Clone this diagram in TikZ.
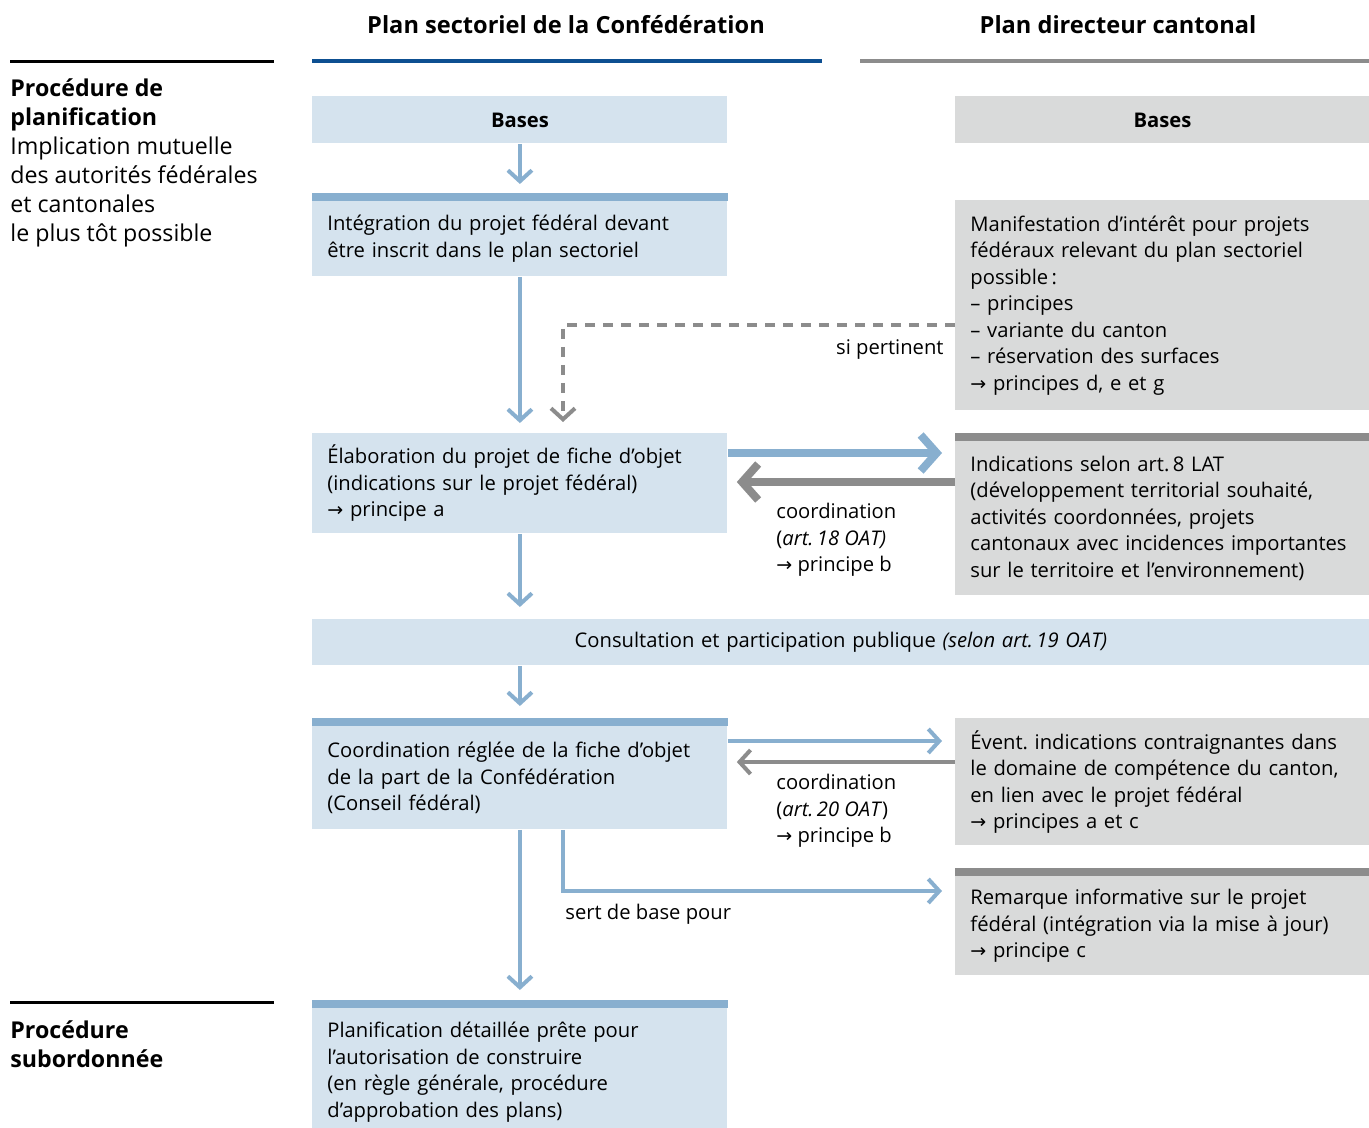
\documentclass[tikz,border=0pt]{standalone}
\usepackage{fontspec}
\setmainfont{Open Sans}
\newfontfamily\arrowfont{DejaVu Sans}
\usetikzlibrary{arrows.meta}
\frenchspacing

\definecolor{fedlight}{HTML}{D5E3EE}
\definecolor{fedmid}{HTML}{88AFCF}
\definecolor{feddark}{HTML}{0D4F91}
\definecolor{canlight}{HTML}{D9DADA}
\definecolor{candark}{HTML}{8C8C8C}

\newcommand{\toarr}{{\arrowfont\fontsize{9.5}{10}\selectfont →}}

\begin{document}
\begin{tikzpicture}[
    x=0.5pt, y=-0.5pt,
    every node/.style={font=\fontsize{10.1}{13.25}\selectfont},
    head/.style={font=\fontsize{11.8}{14}\selectfont\bfseries},
    side/.style={anchor=west, align=left, inner sep=0pt, font=\fontsize{11.6}{14.5}\selectfont},
    lbl/.style={inner sep=0pt, align=left},
    box/.style={anchor=north west, inner xsep=7.5pt, inner ysep=0pt, align=left},
    fedbox/.style={box, fill=fedlight, text width=192.5pt},
    canbox/.style={box, fill=canlight, text width=192pt},
    bluebar/.style={append after command={\pgfextra{\fill[fedmid] (\tikzlastnode.north west) rectangle ([yshift=4pt]\tikzlastnode.north east);}}},
    graybar/.style={append after command={\pgfextra{\fill[candark] (\tikzlastnode.north west) rectangle ([yshift=4pt]\tikzlastnode.north east);}}},
    bluearr/.style={draw=fedmid, line width=2pt, -{Straight Barb[length=5.5pt,width=12pt]}},
    grayarr/.style={draw=candark, line width=2pt, -{Straight Barb[length=5.5pt,width=12pt]}},
    bluewide/.style={draw=fedmid, line width=4pt, -{Straight Barb[length=8pt,width=18pt]}},
    graywide/.style={draw=candark, line width=4pt, -{Straight Barb[length=8pt,width=18pt]}}
]
\useasboundingbox (0,0) rectangle (1369,1128);

\node[head] (hfed) at (566,25) {Plan sectoriel de la Confédération};
\node[head] (hcan) at (1118,25) {Plan directeur cantonal};
\draw[feddark, line width=2pt] (312,61) -- (822,61);
\draw[candark, line width=2pt] (860,61) -- (1369,61);
\draw[line width=1.5pt] (10,62) -- (274,62);
\draw[line width=1.5pt] (10,1002) -- (274,1002);

\node[side] (proc) at (10,163) {\textbf{Procédure de}\\\textbf{planification}\\Implication mutuelle\\des autorités fédérales\\et cantonales\\le plus tôt possible};
\node[side] (subord) at (10,1044) {\textbf{Procédure}\\\textbf{subordonnée}};

\node[fedbox, minimum height=23.5pt, align=center] (basesfed) at (312,96) {\textbf{Bases}};
\node[fedbox, bluebar, minimum height=37.5pt] (integ) at (312,201) {Intégration du projet fédéral devant\\être inscrit dans le plan sectoriel};
\node[fedbox, minimum height=50pt] (elab) at (312,433) {Élaboration du projet de fiche d’objet\\(indications sur le projet fédéral)\\\toarr\ principe a};
\node[fedbox, text width=513.5pt, minimum height=23pt, align=center] (consult) at (312,619) {Consultation et participation publique \textit{(selon art.\,19 OAT)}};
\node[fedbox, bluebar, minimum height=51.5pt] (coordfed) at (312,726) {Coordination réglée de la fiche d’objet\\de la part de la Confédération\\(Conseil fédéral)};
\node[fedbox, bluebar, minimum height=64pt] (planif) at (312,1008) {Planification détaillée prête pour\\l’autorisation de construire\\(en règle générale, procédure\\d’approbation des plans)};

\node[canbox, minimum height=23.5pt, align=center] (basescan) at (955,96) {\textbf{Bases}};
\node[canbox, minimum height=105pt] (manif) at (955,200) {Manifestation d’intérêt pour projets\\fédéraux relevant du plan sectoriel\\possible\,:\\– principes\\– variante du canton\\– réservation des surfaces\\\toarr\ principes d, e et g};
\node[canbox, graybar, minimum height=77pt] (indic) at (955,441) {Indications selon art.\,8 LAT\\(développement territorial souhaité,\\activités coordonnées, projets\\cantonaux avec incidences importantes\\sur le territoire et l’environnement)};
\node[canbox, minimum height=63.5pt] (event) at (955,718) {Évent. indications contraignantes dans\\le domaine de compétence du canton,\\en lien avec le projet fédéral\\\toarr\ principes a et c};
\node[canbox, graybar, minimum height=49.5pt] (remarq) at (955,876) {Remarque informative sur le projet\\fédéral (intégration via la mise à jour)\\\toarr\ principe c};

\node[lbl, anchor=east] (sipert) at (944,350) {si pertinent};
\node[lbl, anchor=west] (coord18) at (776,540) {coordination\\(\textit{art.\,18 OAT)}\\\toarr\ principe b};
\node[lbl, anchor=west] (coord20) at (776,811) {coordination\\(\textit{art.\,20 OAT})\\\toarr\ principe b};
\node[lbl, anchor=west] (sertbase) at (565,914) {sert de base pour};

\coordinate (dashturn) at (563,325);
\coordinate (sertturn) at (563,891);
\coordinate (lvla) at (0,453);
\coordinate (lvlb) at (0,482);
\coordinate (lvlc) at (0,741);
\coordinate (lvld) at (0,762);

\draw[bluearr, shorten >=8.5pt] (basesfed) -- (integ);
\draw[bluearr, shorten >=5pt] (integ) -- (elab);
\draw[bluearr, shorten >=6pt] (elab) -- (elab |- consult.north);
\draw[bluearr, shorten >=10pt] (consult.south -| coordfed) -- (coordfed);
\draw[bluearr, shorten >=9pt] (coordfed) -- (planif);
\draw[grayarr, dash pattern=on 5pt off 4pt, shorten >=5.5pt] (manif.west |- dashturn) -- (dashturn) -- (dashturn |- elab.north);
\draw[bluewide, shorten >=6.5pt] (elab.east |- lvla) -- (indic.west |- lvla);
\draw[graywide, shorten >=4.5pt] (indic.west |- lvlb) -- (elab.east |- lvlb);
\draw[bluearr, shorten >=6.5pt] (coordfed.east |- lvlc) -- (event.west |- lvlc);
\draw[grayarr, shorten >=4.5pt] (event.west |- lvld) -- (coordfed.east |- lvld);
\draw[bluearr, shorten >=6.5pt] (coordfed.south -| sertturn) -- (sertturn) -- (sertturn -| remarq.west);
\end{tikzpicture}
\end{document}
